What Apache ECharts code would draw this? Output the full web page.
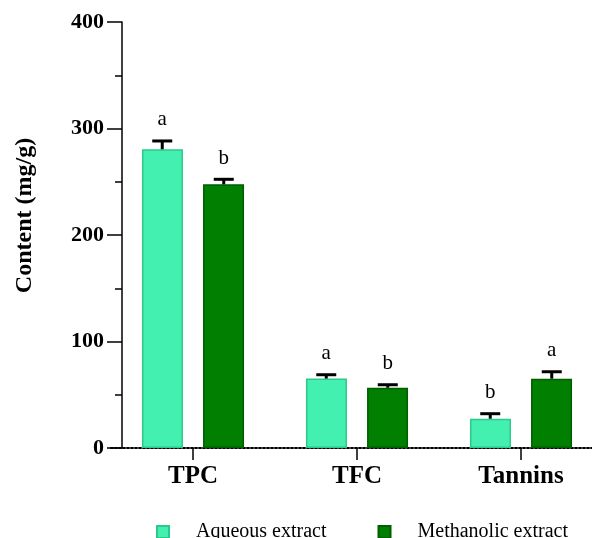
<!DOCTYPE html>
<html><head><meta charset="utf-8">
<script src="https://cdn.jsdelivr.net/npm/echarts@6/dist/echarts.min.js"></script>
<style>html,body{margin:0;padding:0;background:#fff;overflow:hidden;width:592px;height:538px}#c{width:603px;height:538px}</style>
</head><body><div id="c"></div>
<script>
const categories = ['TPC', 'TFC', 'Tannins'];
const aqueous = [280.5, 65.2, 27.5];
const methanolic = [247.6, 56.6, 65.1];
const aqueousErr = [7.8, 3.6, 4.7];
const methanolicErr = [4.7, 2.8, 6.5];
const aqueousLetters = ['a', 'a', 'b'];
const methanolicLetters = ['b', 'b', 'a'];
const yTicks = [0, 100, 200, 300, 400];

const FONT = '"Liberation Serif", "Times New Roman", serif';

function errSeries(vals, errs, letters, sign) {
  return {
    type: 'custom',
    z: 5,
    silent: true,
    data: vals.map((v, i) => [i, v, v + errs[i]]),
    encode: { x: 0, y: [1, 2] },
    renderItem: function (params, api) {
      const i = api.value(0);
      const band = api.size([1, 0])[0];
      const dx = sign * band * 0.1875;
      const base = api.coord([i, api.value(1)]);
      const top = api.coord([i, api.value(2)]);
      const x = base[0] + dx;
      return {
        type: 'group',
        children: [
          { type: 'line', shape: { x1: x, y1: base[1], x2: x, y2: top[1] }, style: { stroke: '#000', lineWidth: 3 } },
          { type: 'line', shape: { x1: x - 10, y1: top[1], x2: x + 10, y2: top[1] }, style: { stroke: '#000', lineWidth: 3 } },
          { type: 'text', x: x, y: top[1] - 21, style: { text: letters[params.dataIndex], font: '21px ' + FONT, fill: '#000', align: 'center', verticalAlign: 'middle' } }
        ]
      };
    }
  };
}

const chart = echarts.init(document.getElementById('c'), null, { renderer: 'canvas' });
chart.setOption({
  animation: false,
  backgroundColor: '#fff',
  grid: { left: 111, right: 0, top: 22, bottom: 90, containLabel: false },
  legend: {
    top: 522,
    left: 156,
    padding: 0,
    itemWidth: 12,
    itemHeight: 12,
    itemGap: 51,
    icon: 'rect',
    data: ['Aqueous extract', 'Methanolic extract'],
    textStyle: { fontFamily: FONT, fontSize: 20, color: '#000', padding: [0, 0, 0, 22] }
  },
  xAxis: {
    type: 'category',
    data: categories,
    boundaryGap: true,
    axisLine: { show: true, lineStyle: { color: '#000', width: 2, type: 'dotted' } },
    axisTick: { show: true, alignWithLabel: true, length: 12, lineStyle: { color: '#000', width: 1.5 } },
    axisLabel: { color: '#000', fontFamily: FONT, fontWeight: 'bold', fontSize: 25, margin: 16 }
  },
  yAxis: {
    type: 'value',
    min: 0, max: 400, interval: 100,
    offset: -11,
    name: 'Content (mg/g)',
    nameLocation: 'middle',
    nameGap: 85,
    nameRotate: 90,
    nameTextStyle: { color: '#000', fontFamily: FONT, fontWeight: 'bold', fontSize: 24, padding: [0, 0, 0, 39] },
    axisLine: { show: true, lineStyle: { color: '#000', width: 1.5 } },
    axisTick: { show: true, length: 15, lineStyle: { color: '#000', width: 1.5 } },
    minorTick: { show: true, splitNumber: 2, length: 7, lineStyle: { color: '#000', width: 1.5 } },
    splitLine: { show: false },
    axisLabel: { color: '#000', fontFamily: FONT, fontWeight: 'bold', fontSize: 22, margin: 18,
      formatter: v => yTicks.includes(v) ? String(v) : '' }
  },
  series: [
    { name: 'Aqueous extract', type: 'bar', data: aqueous, barWidth: 41, barGap: '49%',
      itemStyle: { color: '#43F0AF', borderColor: '#2AC98C', borderWidth: 1.5 } },
    { name: 'Methanolic extract', type: 'bar', data: methanolic, barWidth: 41,
      itemStyle: { color: '#007F00', borderColor: '#005E00', borderWidth: 1.5 } },
    errSeries(aqueous, aqueousErr, aqueousLetters, -1),
    errSeries(methanolic, methanolicErr, methanolicLetters, 1)
  ]
});
</script>
</body></html>
